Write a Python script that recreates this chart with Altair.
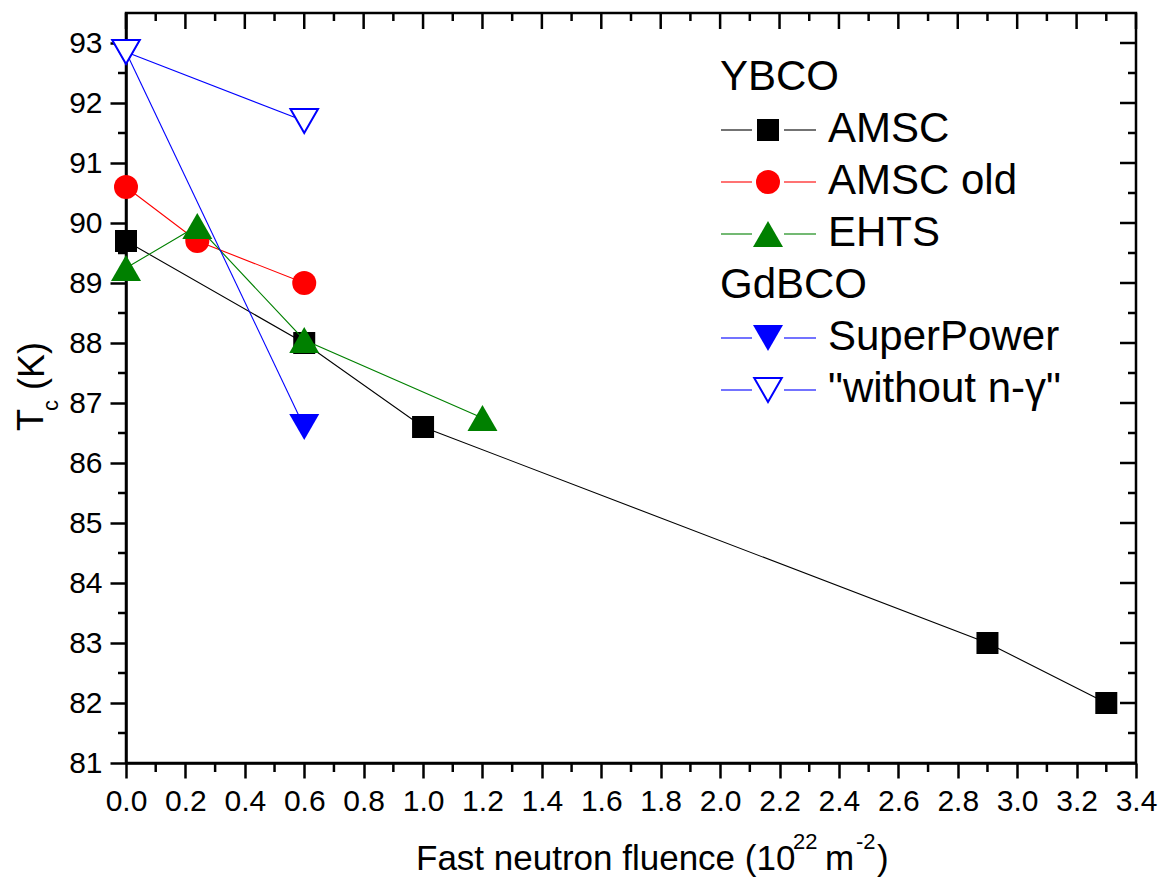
import altair as alt
import pandas as pd

FONT = "Liberation Sans"

# ---------------- data ----------------
x_amsc = [0.0, 0.6, 1.0, 2.9, 3.3]
y_amsc = [89.7, 88.0, 86.6, 83.0, 82.0]
x_old = [0.0, 0.24, 0.6]
y_old = [90.6, 89.7, 89.0]
x_ehts = [0.0, 0.24, 0.6, 1.2]
y_ehts = [89.25, 89.95, 88.05, 86.75]
x_sp = [0.0, 0.6]
y_sp = [92.85, 86.6]
x_wo = [0.0, 0.6]
y_wo = [92.85, 91.7]

series_names = ["AMSC", "AMSC old", "EHTS", "SuperPower", "\"without n-\u03b3\""]
series_x = [x_amsc, x_old, x_ehts, x_sp, x_wo]
series_y = [y_amsc, y_old, y_ehts, y_sp, y_wo]
colors = ["#000000", "#FF0000", "#008000", "#0000FF", "#0000FF"]
shapes = ["square", "circle", "triangle-up", "triangle-down", "triangle-down"]
filled = [True, True, True, True, False]
sizes = [484, 576, 900, 900, 760]

group_titles = ["YBCO", "GdBCO"]
legend_rows = [1, 2, 3, 5, 6]      # row of each series in the legend
group_rows = [0, 4]

x_major = [0.0, 0.2, 0.4, 0.6, 0.8, 1.0, 1.2, 1.4, 1.6, 1.8, 2.0, 2.2, 2.4, 2.6, 2.8, 3.0, 3.2, 3.4]
x_minor = [0.1, 0.3, 0.5, 0.7, 0.9, 1.1, 1.3, 1.5, 1.7, 1.9, 2.1, 2.3, 2.5, 2.7, 2.9, 3.1, 3.3]
y_major = [81, 82, 83, 84, 85, 86, 87, 88, 89, 90, 91, 92, 93]
y_minor = [81.5, 82.5, 83.5, 84.5, 85.5, 86.5, 87.5, 88.5, 89.5, 90.5, 91.5, 92.5]

# axis title pieces: (text, font size, kind)  kind: 0 normal, 1 superscript/subscript
x_title_parts = [("Fast neutron fluence (10", 35, 0), ("22", 22, 1), ("m", 35, 0), ("-2", 22, 1), (")", 35, 0)]
y_title_parts = [("T", 36, 0), ("c", 22, 1), ("(K)", 36, 0)]

W, H = 1010, 750
TW = 2.5

X = alt.X("x:Q",
          scale=alt.Scale(domain=[0, 3.4], nice=False, zero=False),
          axis=alt.Axis(values=x_major, format=".1f", tickSize=15, tickWidth=TW,
                        tickColor="black", domainColor="black", domainWidth=TW,
                        labelFont=FONT, labelFontSize=30, labelColor="black",
                        labelPadding=8, labelFlush=False, labelOverlap=False,
                        grid=False, title=None))
Y = alt.Y("y:Q",
          scale=alt.Scale(domain=[81, 93.5], nice=False, zero=False),
          axis=alt.Axis(values=y_major, format="d", tickSize=16, tickWidth=TW,
                        tickColor="black", domainColor="black", domainWidth=TW,
                        labelFont=FONT, labelFontSize=30, labelColor="black",
                        labelPadding=8, labelFlush=False, labelOverlap=False,
                        grid=False, title=None))

layers = []

one = pd.DataFrame({"k": [0]})


def rule_x(vals, y0, y1):
    return alt.Chart(pd.DataFrame({"x": vals})).mark_rule(
        color="black", strokeWidth=TW).encode(x=X, y=alt.value(y0), y2=alt.value(y1))


def rule_y(vals, x0, x1):
    return alt.Chart(pd.DataFrame({"y": vals})).mark_rule(
        color="black", strokeWidth=TW).encode(y=Y, x=alt.value(x0), x2=alt.value(x1))


# minor ticks and mirrored ticks
layers += [
    rule_x(x_minor, H, H + 9),
    rule_x(x_major, 0, 16),
    rule_x(x_minor, 0, 8),
    rule_y(y_minor, 0, -8),
    rule_y(y_major, W, W - 16),
    rule_y(y_minor, W, W - 8),
]

# series
for name, xs, ys, c, s, f, sz in zip(series_names, series_x, series_y, colors, shapes, filled, sizes):
    df = pd.DataFrame({"x": xs, "y": ys, "series": name})
    layers.append(alt.Chart(df).mark_line(color=c, strokeWidth=1.1).encode(x=X, y=Y))
    if f:
        pt = alt.Chart(df).mark_point(shape=s, size=sz, filled=True, color=c, opacity=1)
    else:
        pt = alt.Chart(df).mark_point(shape=s, size=sz, filled=True, fill="white",
                                      stroke=c, strokeWidth=2, opacity=1)
    layers.append(pt.encode(x=X, y=Y))

# legend (pixel layout)
LX0, LX1, LM, LX2, LX3, LT = 595, 626, 642, 658, 690, 702
ROW0, PITCH = 65, 52
for g, r in zip(group_titles, group_rows):
    layers.append(alt.Chart(one).mark_text(
        text=g, font=FONT, fontSize=42, align="left", baseline="middle", color="black"
    ).encode(x=alt.value(LX0 - 1), y=alt.value(ROW0 + PITCH * r - 1)))
for name, c, s, f, sz, r in zip(series_names, colors, shapes, filled, sizes, legend_rows):
    yy = ROW0 + PITCH * r
    for a, b in [(LX0, LX1), (LX2, LX3)]:
        layers.append(alt.Chart(one).mark_rule(color=c, strokeWidth=1.1).encode(
            x=alt.value(a), x2=alt.value(b), y=alt.value(yy)))
    if f:
        pt = alt.Chart(one).mark_point(shape=s, size=sz, filled=True, color=c, opacity=1)
    else:
        pt = alt.Chart(one).mark_point(shape=s, size=sz, filled=True, fill="white",
                                       stroke=c, strokeWidth=2, opacity=1)
    layers.append(pt.encode(x=alt.value(LM), y=alt.value(yy)))
    layers.append(alt.Chart(one).mark_text(
        text=name, font=FONT, fontSize=42, align="left", baseline="middle", color="black"
    ).encode(x=alt.value(LT), y=alt.value(yy - 1)))

# x-axis title pieces (pixel layout, plot coordinates)
x_title_pos = [(290, 857), (667, 836), (699, 857), (730, 836), (751, 857)]
for (txt, fs, kind), (px, py) in zip(x_title_parts, x_title_pos):
    layers.append(alt.Chart(one).mark_text(
        text=txt, font=FONT, fontSize=fs, align="left", baseline="alphabetic", color="black"
    ).encode(x=alt.value(px), y=alt.value(py)))

# y-axis title pieces  T_c (K), rotated
y_title_pos = [(-83, 418), (-68, 398), (-82, 377)]
for (txt, fs, kind), (px, py) in zip(y_title_parts, y_title_pos):
    layers.append(alt.Chart(one).mark_text(
        text=txt, font=FONT, fontSize=fs, angle=270, align="left", baseline="alphabetic", color="black"
    ).encode(x=alt.value(px), y=alt.value(py)))

chart = alt.layer(*layers).properties(
    width=W, height=H,
    autosize=alt.AutoSizeParams(type="none"),
    padding={"left": 126, "top": 13, "right": 25, "bottom": 116},
    background="white",
).configure_view(stroke="black", strokeWidth=TW)

chart.save("out.html", embed_options={"renderer": "svg", "actions": False})
